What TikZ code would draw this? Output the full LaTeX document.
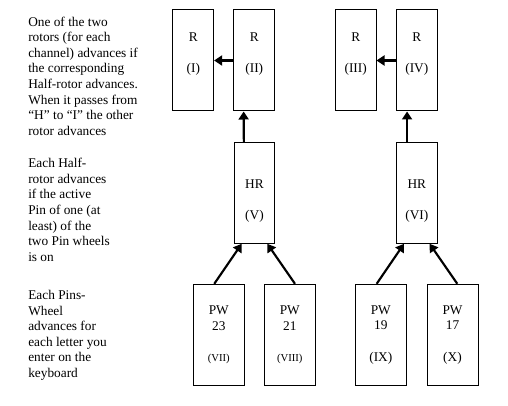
\documentclass[tikz,border=0pt]{standalone}
\usepackage{fontspec}
\setmainfont{Liberation Serif}
\usetikzlibrary{arrows.meta}
\tikzset{
  rotorbox/.style={draw, line width=.75pt, minimum width=30.5pt, minimum height=75.75pt, inner sep=0pt},
  wheelbox/.style={rotorbox, minimum width=38.25pt},
  boxtext/.style={align=center, inner sep=0pt, font=\fontsize{10}{11.5}\selectfont},
  note/.style={align=left, anchor=north west, inner sep=0pt, font=\fontsize{10}{11.7}\selectfont},
  advance/.style={-{Triangle[length=6pt,width=7.5pt]}, line width=1.6pt}
}
\begin{document}
\begin{tikzpicture}[x=0.75pt,y=-0.75pt]
\useasboundingbox (0,0) rectangle (508,406);
%explanations
\node[note] (rotorNote) at (28,16.5) {One of the two\\rotors (for each\\channel) advances if\\the corresponding\\Half-rotor advances.\\When it passes from\\``H'' to ``I'' the other\\rotor advances};
\node[note] (halfNote)  at (28,158)  {Each Half-\\rotor advances\\if the active\\Pin of one (at\\least) of the\\two Pin wheels\\is on};
\node[note] (wheelNote) at (28,290)  {Each Pins-\\Wheel\\advances for\\each letter you\\enter on the\\keyboard};

%rotors
\node[rotorbox] (rI)     at (193.3, 60.5) {};
\node[rotorbox] (rII)    at (254.3, 60.5) {};
\node[rotorbox] (rIII)   at (355.7, 60.5) {};
\node[rotorbox] (rIV)    at (416.8, 60.5) {};
\node[boxtext]  (rIt)    at (193.3, 54)   {R\\[12pt](I)};
\node[boxtext]  (rIIt)   at (254.3, 54)   {R\\[12pt](II)};
\node[boxtext]  (rIIIt)  at (355.7, 54)   {R\\[12pt](III)};
\node[boxtext]  (rIVt)   at (416.8, 54)   {R\\[12pt](IV)};

%half rotors
\node[rotorbox] (hrV)    at (254.5,192.8) {};
\node[rotorbox] (hrVI)   at (416.8,192.8) {};
\node[boxtext]  (hrVt)   at (254.5,201)   {HR\\[12pt](V)};
\node[boxtext]  (hrVIt)  at (416.8,201)   {HR\\[12pt](VI)};

%pin wheels
\node[wheelbox] (pwVII)  at (218.8,334.8) {};
\node[wheelbox] (pwVIII) at (289.8,334.8) {};
\node[wheelbox] (pwIX)   at (380.8,334.8) {};
\node[wheelbox] (pwX)    at (452.5,334.8) {};
\node[boxtext]  (pwVIIt)  at (218.8,335) {PW\\23\\[12pt]{\footnotesize (VII)}};
\node[boxtext]  (pwVIIIt) at (289.8,335) {PW\\21\\[12pt]{\footnotesize (VIII)}};
\node[boxtext]  (pwIXt)   at (380.8,335) {PW\\19\\[12pt](IX)};
\node[boxtext]  (pwXt)    at (452.5,335) {PW\\17\\[12pt](X)};

%connections
\draw[advance] (rII.west) -- (rI.east);
\draw[advance] (rIV.west) -- (rIII.east);
\draw[advance] ([xshift=-8pt]hrV.north)  -- ([xshift=-8pt]rII.south);
\draw[advance] ([xshift=-7.3pt]hrVI.north) -- ([xshift=-7.3pt]rIV.south);
\draw[advance] ([xshift=-3.4pt]pwVII.north) -- ([xshift=-9.6pt]hrV.south);
\draw[advance] ([xshift=3.9pt]pwVIII.north) -- ([xshift=9.6pt]hrV.south);
\draw[advance] ([xshift=-3.1pt]pwIX.north)  -- ([xshift=-9.6pt]hrVI.south);
\draw[advance] ([xshift=3.6pt]pwX.north)    -- ([xshift=9.6pt]hrVI.south);
\end{tikzpicture}
\end{document}
